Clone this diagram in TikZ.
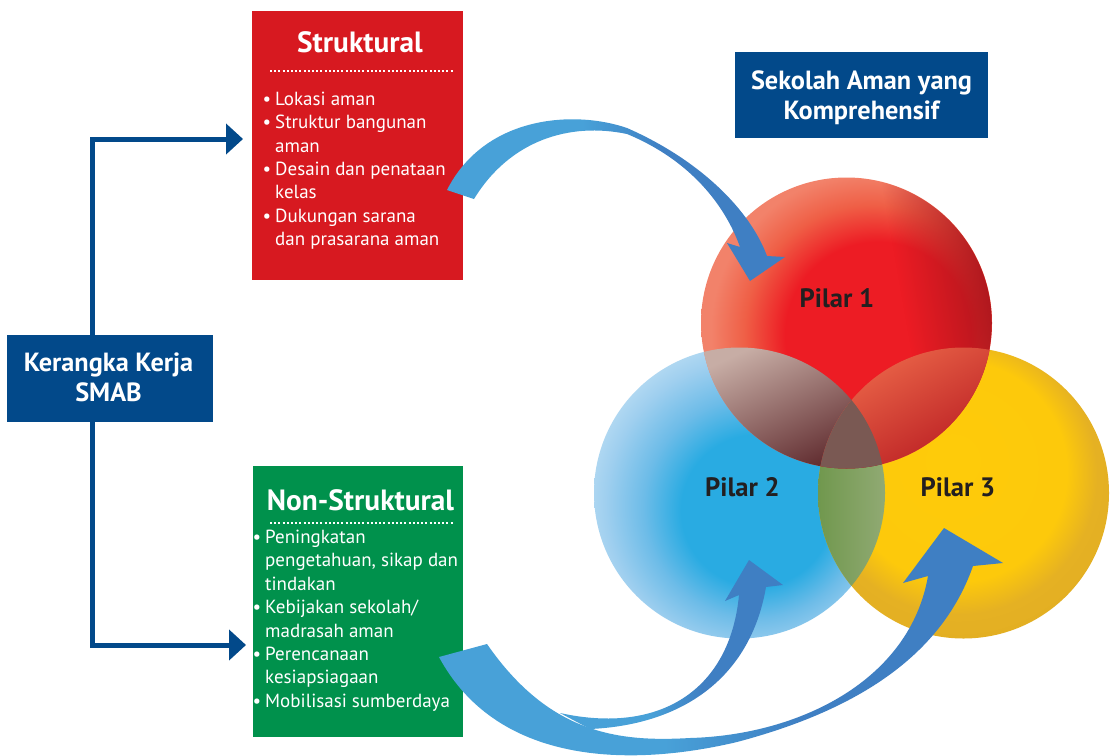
\documentclass[tikz,border=0pt]{standalone}
\usepackage{fontspec}
\setmainfont{PT Sans}
\usetikzlibrary{arrows.meta,fadings}
\definecolor{navy}{HTML}{02498A}
\definecolor{boxred}{HTML}{D71920}
\definecolor{boxgreen}{HTML}{00914C}
\definecolor{aL}{HTML}{48A1D8}
\definecolor{aD}{HTML}{3F7FC3}
\definecolor{b1}{HTML}{29ABE2}
\definecolor{b2}{HTML}{6DBCE8}
\definecolor{b3}{HTML}{9FCFEF}
\definecolor{b4}{HTML}{C6E3F5}
\definecolor{y1}{HTML}{FECB0A}
\definecolor{y2}{HTML}{FDC90B}
\definecolor{y3}{HTML}{E5B123}
\definecolor{y4}{HTML}{E2AE22}
\definecolor{r1}{HTML}{F2826A}
\definecolor{r1b}{HTML}{EF5F46}
\definecolor{r2}{HTML}{ED1C24}
\definecolor{r3}{HTML}{B0161D}
\definecolor{gL}{RGB}{111,151,76}
\definecolor{gR}{RGB}{147,171,118}
\definecolor{rbT}{RGB}{199,173,165}
\definecolor{rbM}{RGB}{149,105,98}
\definecolor{rbB}{RGB}{90,36,40}
\definecolor{ryT}{RGB}{239,108,76}
\definecolor{ryB}{RGB}{184,27,33}
\definecolor{tri}{RGB}{122,89,83}
\definecolor{pilartext}{HTML}{231F20}
\pgfdeclarehorizontalshading{arrowsh}{100bp}{color(0bp)=(aL); color(45bp)=(aL); color(57bp)=(aD); color(100bp)=(aD)}
\pgfdeclareradialshading{blueball}{\pgfpoint{4bp}{-4bp}}{color(0bp)=(b1); color(13bp)=(b1); color(19bp)=(b2); color(25bp)=(b3); color(31bp)=(b4); color(50bp)=(b4)}
\pgfdeclareradialshading{yellowball}{\pgfpoint{-2bp}{6bp}}{color(0bp)=(y1); color(19bp)=(y2); color(24bp)=(y3); color(30bp)=(y4); color(50bp)=(y4)}
\pgfdeclareradialshading{redball}{\pgfpoint{8bp}{-3bp}}{color(0bp)=(r2); color(16bp)=(r2); color(22bp)=(r1b); color(27bp)=(r1); color(50bp)=(r1)}
\pgfdeclarehorizontalshading{rightedgesh}{100bp}{color(0bp)=(pgftransparent!100); color(60bp)=(pgftransparent!100); color(75bp)=(pgftransparent!0); color(100bp)=(pgftransparent!0)}
\pgfdeclarefading{rightedge}{\pgfuseshading{rightedgesh}}
\tikzset{
  panel/.style={draw=none, inner sep=0pt, outer sep=0pt},
  boxtitle/.style={text=white, font=\fontsize{29.3}{33}\selectfont\bfseries, anchor=base, inner sep=0pt},
  headtext/.style={text=white, font=\fontsize{26.3}{30}\selectfont\bfseries, anchor=base, inner sep=0pt},
  item/.style={text=white, font=\fontsize{19}{23}\selectfont, anchor=base west, inner sep=0pt},
  bul/.style={text=white, font=\fontsize{19}{23}\selectfont, anchor=base, inner sep=0pt},
  dots/.style={white, line width=2pt, dash pattern=on 2pt off 2.2pt},
  conn/.style={navy, line width=5pt, -{Triangle[width=30pt,length=17pt]}},
  pilar/.style={text=pilartext, font=\fontsize{26.6}{30}\selectfont\bfseries, anchor=base, inner sep=0pt},
  bigarrow/.style={shading=arrowsh}
}
\begin{document}
\begin{tikzpicture}[x=1pt,y=-1pt]
\useasboundingbox[fill=white] (0,0) rectangle (1110,755);

% ---------- boxes ----------
\node[panel, fill=boxred, minimum width=211pt, minimum height=269pt] (struk) at (357.5,145.5) {};
\node[panel, fill=boxgreen, minimum width=210pt, minimum height=271pt] (nons) at (358,601.5) {};
\node[panel, fill=navy, minimum width=206pt, minimum height=87pt] (kbox) at (110,378.5) {};
\node[panel, fill=navy, minimum width=253pt, minimum height=86pt] (sbox) at (861.5,95) {};

\node[headtext] (k1) at (108.5,371) {Kerangka Kerja};
\node[headtext] (k2) at (108.5,401) {SMAB};
\node[headtext] (s1) at (861.5,89) {Sekolah Aman yang};
\node[headtext] (s2) at (861.5,119) {Komprehensif};

% Struktural contents
\node[boxtitle] (st) at (360,52) {Struktural};
\draw[dots] (270,71) -- (453,71);
\node[bul] (sb1) at (267,105) {•}; \node[item] (si1) at (275,105) {Lokasi aman};
\node[bul] (sb2) at (267,128) {•}; \node[item] (si2) at (275,128) {Struktur bangunan};
\node[item] (si3) at (275,152) {aman};
\node[bul] (sb4) at (267,175) {•}; \node[item] (si4) at (275,175) {Desain dan penataan};
\node[item] (si5) at (275,198) {kelas};
\node[bul] (sb6) at (267,222) {•}; \node[item] (si6) at (275,222) {Dukungan sarana};
\node[item] (si7) at (275,245) {dan prasarana aman};

% Non-Struktural contents
\node[boxtitle] (nt) at (360.5,510) {Non-Struktural};
\draw[dots] (270,523) -- (453,523);
\node[bul] (nb1) at (257,543) {•}; \node[item] (ni1) at (265,543) {Peningkatan};
\node[item] (ni2) at (265,566) {pengetahuan, sikap dan};
\node[item] (ni3) at (265,590) {tindakan};
\node[bul] (nb4) at (257,613) {•}; \node[item] (ni4) at (265,613) {Kebijakan sekolah/};
\node[item] (ni5) at (265,637) {madrasah aman};
\node[bul] (nb6) at (257,660) {•}; \node[item] (ni6) at (265,660) {Perencanaan};
\node[item] (ni7) at (265,683) {kesiapsiagaan};
\node[bul] (nb8) at (257,707) {•}; \node[item] (ni8) at (265,707) {Mobilisasi sumberdaya};

% ---------- connectors ----------
\draw[conn] ([xshift=-17.5pt]kbox.north) |- ([xshift=-9pt,yshift=6.5pt]struk.west);
\draw[conn] ([xshift=-17.5pt]kbox.south) |- ([xshift=-7pt,yshift=-43.5pt]nons.west);

% ---------- circles ----------
\coordinate (c1) at (846.5,323);
\coordinate (c2) at (739.5,493);
\coordinate (c3) at (963.5,493);
\shade[shading=blueball] (c2) circle[radius=145.5];
\shade[shading=yellowball] (c3) circle[radius=145.5];
\shade[shading=redball] (c1) circle[radius=145.5];
\fill[r3, path fading=rightedge, fading angle=10] (c1) circle[radius=145.5];
% blue & yellow
\begin{scope}
  \clip (c2) circle[radius=145.5];
  \clip (c3) circle[radius=145.5];
  \shade[left color=gL, right color=gR] (815,345) rectangle (890,640);
\end{scope}
% red & blue
\begin{scope}
  \clip (c1) circle[radius=145.5];
  \clip (c2) circle[radius=145.5];
  \shade[top color=rbT, middle color=rbM, bottom color=rbB, shading angle=25] (700,345) rectangle (885,472);
\end{scope}
% red & yellow
\begin{scope}
  \clip (c1) circle[radius=145.5];
  \clip (c3) circle[radius=145.5];
  \shade[top color=ryT, bottom color=ryB, shading angle=30] (815,345) rectangle (995,472);
\end{scope}
% triple
\begin{scope}
  \clip (c1) circle[radius=145.5];
  \clip (c2) circle[radius=145.5];
  \clip (c3) circle[radius=145.5];
  \fill[tri] (815,345) rectangle (890,472);
\end{scope}

% ---------- curved arrows ----------
% top arrow (Struktural -> Pilar 1)
\shade[bigarrow] (474,199) -- (447,190)
  .. controls (485,115) and (575,110) .. (627,128)
  .. controls (700,160) and (750,210) .. (767,256)
  -- (785,257) -- (750,281) -- (727,243) -- (740,247)
  .. controls (725,205) and (690,160) .. (627,134)
  .. controls (570,122) and (510,140) .. (474,199) -- cycle;
% big arc (Non-Struktural -> Pilar 3)
\shade[bigarrow] (487,644) -- (439,657)
  .. controls (500,770) and (640,765) .. (737,742)
  .. controls (850,712) and (940,660) .. (973,566)
  -- (1003,563) -- (944,528) -- (903,583) -- (928,576)
  .. controls (910,680) and (800,735) .. (690,738)
  .. controls (620,742) and (550,735) .. (487,644) -- cycle;
% branch (-> Pilar 2)
\shade[bigarrow] (560,713)
  .. controls (660,735) and (730,690) .. (739,595)
  -- (725,601) -- (749,560) -- (783,585) -- (766,587)
  .. controls (750,680) and (680,725) .. (590,729) -- cycle;

% ---------- labels ----------
\node[pilar] (p1) at (837,307) {Pilar 1};
\node[pilar] (p2) at (742.5,496) {Pilar 2};
\node[pilar] (p3) at (958,496) {Pilar 3};
\end{tikzpicture}
\end{document}
